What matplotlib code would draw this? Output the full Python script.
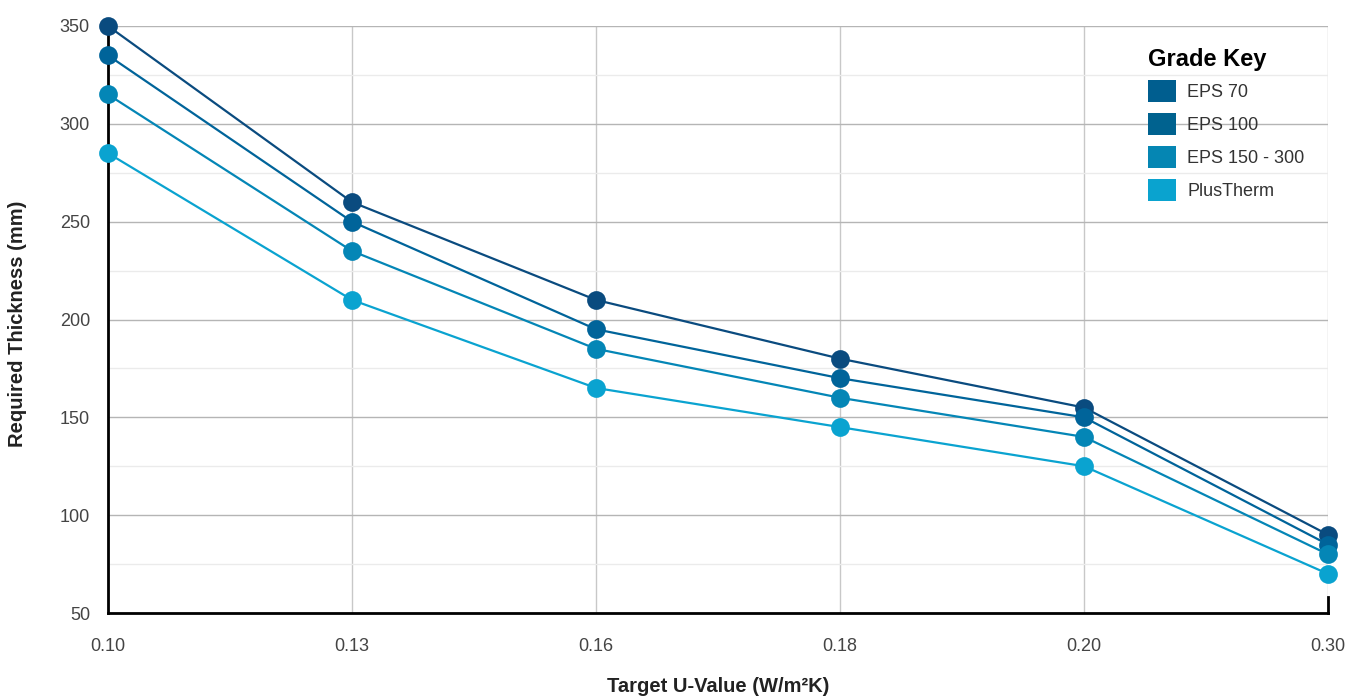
import matplotlib
matplotlib.use("Agg")
import matplotlib.pyplot as plt
from matplotlib.patches import Patch
from matplotlib.ticker import MultipleLocator

u_values = ["0.10", "0.13", "0.16", "0.18", "0.20", "0.30"]
eps70 = [350, 260, 210, 180, 155, 90]
eps100 = [335, 250, 195, 170, 150, 85]
eps150 = [315, 235, 185, 160, 140, 80]
plustherm = [285, 210, 165, 145, 125, 70]
series_names = ["EPS 70", "EPS 100", "EPS 150 - 300", "PlusTherm"]
line_colors = ["#0a4b7f", "#00649a", "#0486b6", "#0aa3d0"]
legend_colors = ["#005e8f", "#00628f", "#0586b3", "#0aa3cf"]

plt.rcParams['font.family'] = ['Liberation Sans', 'DejaVu Sans']

W, H = 1359, 699
fig = plt.figure(figsize=(W / 100, H / 100), dpi=100)
ax = fig.add_axes([108/W, 1 - 613/H, (1328-108)/W, (613-26)/H])

x = list(range(len(u_values)))
for vals, c in zip([eps70, eps100, eps150, plustherm], line_colors):
    ax.plot(x, vals, color=c, lw=1.6, marker='o', markersize=13.5,
            markeredgewidth=0, zorder=3, clip_on=False)

ax.set_xlim(0, len(u_values) - 1)
ax.set_ylim(50, 350)
ax.set_xticks(x)
ax.set_xticklabels(u_values)
ax.yaxis.set_major_locator(MultipleLocator(50))
ax.yaxis.set_minor_locator(MultipleLocator(25))
ax.grid(which='major', axis='y', color='#b5b5b5', lw=1)
ax.grid(which='minor', axis='y', color='#ebebeb', lw=1)
ax.grid(which='major', axis='x', color='#c8c8c8', lw=1)
ax.set_axisbelow(True)
ax.tick_params(which='both', length=0)
ax.tick_params(axis='y', pad=13, labelsize=13, labelcolor='#444444')
ax.tick_params(axis='x', pad=18, labelsize=13, labelcolor='#444444')

for s in ['top', 'right']:
    ax.spines[s].set_visible(False)
for s in ['left', 'bottom']:
    ax.spines[s].set_color('black')
    ax.spines[s].set_linewidth(2)
ax.axvline(len(u_values) - 1, ymin=0, ymax=0.027, color='black', lw=2, zorder=4, clip_on=False)

ax.set_ylabel("Required Thickness (mm)", fontsize=14.5, fontweight='bold', color='#222222')
ax.set_xlabel("Target U-Value (W/m²K)", fontsize=14.5, fontweight='bold', color='#222222')
ax.yaxis.set_label_coords((18 - 108) / 1220, 0.5 + (26 + 293.5 - 324) / 587)
ax.xaxis.set_label_coords(0.5, -(687 - 613) / 587)
ax.yaxis.label.set_va('center')
ax.xaxis.label.set_va('center')

handles = [Patch(facecolor=c, edgecolor='none') for c in legend_colors]
leg = ax.legend(handles, series_names, title="Grade Key", loc='upper left',
                bbox_to_anchor=((1132-108)/1220, (613-32)/587), frameon=False,
                fontsize=13, handlelength=1.55, handleheight=1.55, handletextpad=0.6,
                labelspacing=0.58, labelcolor='#333333')
leg.get_title().set_fontsize(17)
leg.get_title().set_fontweight('bold')
leg.get_title().set_ha('left')
leg._legend_box.align = "left"
leg._legend_box.sep = 6

fig.savefig("out.png", dpi=100)
